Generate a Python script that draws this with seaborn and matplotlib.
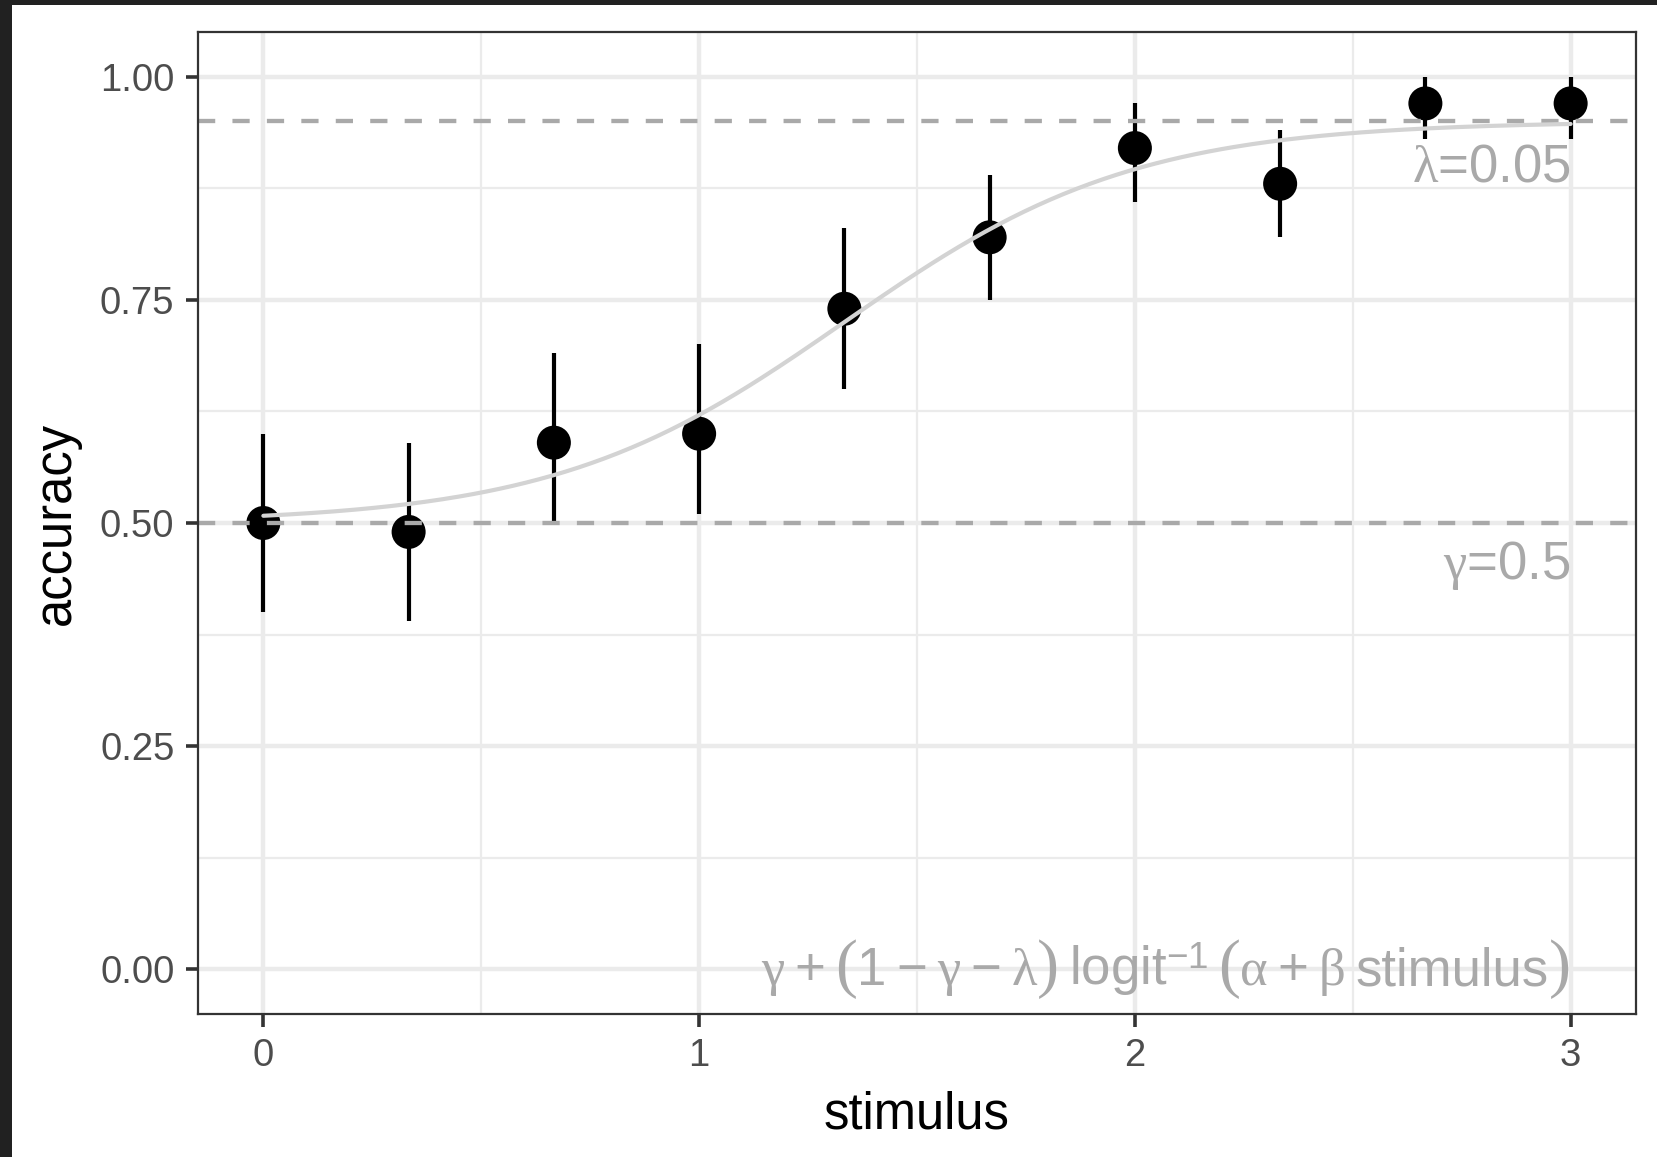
import numpy as np
import pandas as pd
import matplotlib
matplotlib.use("Agg")
import matplotlib.pyplot as plt
from matplotlib.patches import Rectangle
from matplotlib.ticker import FixedLocator, FuncFormatter
from matplotlib.offsetbox import TextArea, HPacker, AnnotationBbox, DrawingArea
import seaborn as sns

# ---- data ----
stimulus = [0, 1/3, 2/3, 1, 4/3, 5/3, 2, 7/3, 8/3, 3]
accuracy = [0.50, 0.49, 0.59, 0.60, 0.74, 0.82, 0.92, 0.88, 0.97, 0.97]
acc_lower = [0.40, 0.39, 0.50, 0.51, 0.65, 0.75, 0.86, 0.82, 0.93, 0.93]
acc_upper = [0.60, 0.59, 0.69, 0.70, 0.83, 0.89, 0.97, 0.94, 1.00, 1.00]

# model parameters shown in the annotations
gamma = 0.5
lam = 0.05
alpha = -4.0
beta = 3.0

x_ticks = [0, 1, 2, 3]
x_minor = [0.5, 1.5, 2.5]
y_ticks = [0.0, 0.25, 0.50, 0.75, 1.00]
y_minor = [0.125, 0.375, 0.625, 0.875]

df = pd.DataFrame({"stimulus": stimulus, "accuracy": accuracy,
                   "lower": acc_lower, "upper": acc_upper})
curve_x = np.linspace(min(stimulus), max(stimulus), 300)
curve = pd.DataFrame({"stimulus": curve_x,
                      "accuracy": gamma + (1 - gamma - lam) / (1 + np.exp(-(alpha + beta * curve_x)))})

# ---- style ----
sns.set_theme(style="white")
plt.rcParams["font.family"] = ["Liberation Sans", "DejaVu Sans"]
plt.rcParams["mathtext.fontset"] = "custom"
plt.rcParams["mathtext.rm"] = "Liberation Sans"
plt.rcParams["mathtext.it"] = "Liberation Serif"
plt.rcParams["mathtext.bf"] = "Liberation Sans:bold"

W, H = 1658, 1157
fig = plt.figure(figsize=(W / 100, H / 100), dpi=100, facecolor="#212121")
fig.patches.append(Rectangle((12 / W, 0), 1 - 12 / W, 1 - 5 / H, transform=fig.transFigure,
                             facecolor="white", edgecolor="none", zorder=-10))

ax = fig.add_axes([198 / W, 1 - 1014 / H, (1636 - 198) / W, (1014 - 32) / H])
ax.set_facecolor("white")

grid_col = "#EBEBEB"
dark = "darkgrey"

# error bars + points
ax.vlines(df["stimulus"], df["lower"], df["upper"], color="black", lw=3.0, zorder=3)
sns.scatterplot(data=df, x="stimulus", y="accuracy", ax=ax, color="black", s=24.5 ** 2,
                edgecolor="none", linewidth=0, zorder=4)

# reference lines
dash = (0, (4, 4))
ax.axhline(gamma, color=dark, lw=3.1, linestyle=dash, zorder=5)
ax.axhline(1 - lam, color=dark, lw=3.1, linestyle=dash, zorder=5)

# model curve
sns.lineplot(data=curve, x="stimulus", y="accuracy", ax=ax, color="#D3D3D3", lw=3.0, zorder=6)

# annotations
fs = 38
ax.text(3, 0.898, r"$\lambda$=0.05", ha="right", va="center", color=dark, fontsize=fs, zorder=7)
ax.text(3, 0.452, r"$\gamma$=0.5", ha="right", va="center", color=dark, fontsize=fs, zorder=7)

sans = dict(color=dark, fontsize=fs, family="Liberation Sans")
serif = dict(color=dark, fontsize=fs, family="Liberation Serif")
paren = dict(color=dark, fontsize=fs * 1.25, family="Liberation Serif")


def gap(px):
    return DrawingArea(px * 0.72, 1)


op_gap = 10
word_gap = 10
tokens = [("γ", serif), op_gap, ("+", sans), op_gap, ("(", paren), ("1", sans), op_gap,
          ("−", sans), op_gap, ("γ", serif), op_gap, ("−", sans), op_gap, ("λ", serif),
          (")", paren), word_gap, ("logit$^{-1}$", sans), word_gap,
          ("(", paren), ("α", serif), op_gap, ("+", sans), op_gap, ("β", serif), word_gap,
          ("stimulus", sans), (")", paren)]
children = [gap(t) if isinstance(t, (int, float)) else TextArea(t[0], textprops=t[1])
            for t in tokens]
pack = HPacker(children=children, pad=0, sep=0, align="baseline")
ab = AnnotationBbox(pack, (3, 0.0), xycoords="data", box_alignment=(1, 0.5),
                    frameon=False, pad=0, annotation_clip=False, zorder=7)
ax.add_artist(ab)

# axes
ax.set_xlim(-0.15, 3.15)
ax.set_ylim(-0.05, 1.05)
ax.xaxis.set_major_locator(FixedLocator(x_ticks))
ax.xaxis.set_minor_locator(FixedLocator(x_minor))
ax.yaxis.set_major_locator(FixedLocator(y_ticks))
ax.yaxis.set_minor_locator(FixedLocator(y_minor))
ax.xaxis.set_major_formatter(FuncFormatter(lambda v, p: f"{v:g}"))
ax.yaxis.set_major_formatter(FuncFormatter(lambda v, p: f"{v:.2f}"))
ax.grid(which="major", color=grid_col, lw=3.2, zorder=0)
ax.grid(which="minor", color=grid_col, lw=1.6, zorder=0)
ax.set_axisbelow(True)
ax.tick_params(which="major", length=9, width=2.6, color="#333333", labelcolor="#4D4D4D",
               labelsize=27.5, pad=8, bottom=True, left=True)
ax.tick_params(which="minor", length=0, bottom=False, left=False)
for s in ax.spines.values():
    s.set_color("#333333")
    s.set_linewidth(1.6)
    s.set_zorder(10)

ax.set_xlabel("stimulus", fontsize=36.5, color="black", labelpad=12)
ax.set_ylabel("accuracy", fontsize=36.5, color="black", labelpad=14)

fig.savefig("out.png", dpi=100, facecolor=fig.get_facecolor())
